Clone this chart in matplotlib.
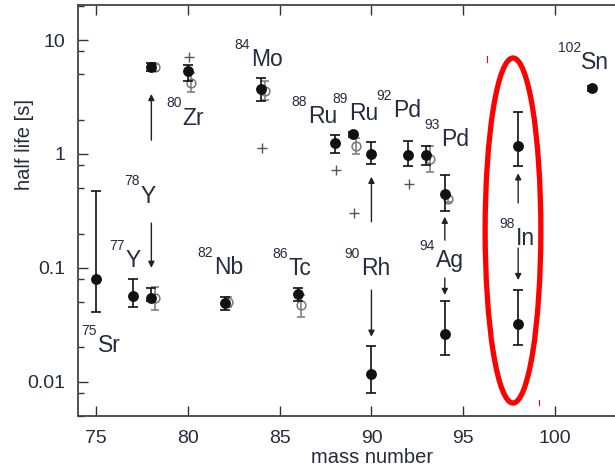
import matplotlib
matplotlib.use('Agg')
import matplotlib.pyplot as plt
import numpy as np
from matplotlib.patches import Ellipse
from matplotlib.ticker import FixedLocator, NullFormatter

plt.rcParams['font.family'] = ['Liberation Sans', 'DejaVu Sans']

# ---- measured half-lives (filled black circles) ----
mass_meas = [75, 77, 78, 78, 80, 82, 84, 86, 88, 89, 90, 90, 92, 93, 94, 94, 98, 98, 102]
hl_meas = [0.080, 0.057, 0.0545, 5.8, 5.35, 0.0487, 3.69, 0.0587, 1.24, 1.49, 1.0, 0.0117,
           0.985, 0.985, 0.445, 0.026, 1.18, 0.0318, 3.77]
hl_meas_lo = [0.041, 0.045, 0.051, 5.3, 4.4, 0.0425, 2.93, 0.0511, 1.02, 1.42, 0.82, 0.0079,
              0.79, 0.80, 0.316, 0.017, 0.79, 0.0208, 3.6]
hl_meas_hi = [0.476, 0.079, 0.066, 6.3, 6.0, 0.0555, 4.61, 0.0664, 1.46, 1.56, 1.28, 0.0206,
              1.31, 1.17, 0.65, 0.0516, 2.35, 0.0645, 3.95]

# ---- previous values (open grey circles) ----
mass_prev = [78, 78, 80, 82, 84, 86, 89, 93, 94]
hl_prev = [0.0545, 5.8, 4.17, 0.050, 3.6, 0.0476, 1.18, 0.90, 0.40]
hl_prev_lo = [0.0427, 5.4, 3.5, 0.045, 3.0, 0.037, 1.0, 0.70, 0.38]
hl_prev_hi = [0.068, 6.2, 5.1, 0.055, 4.4, 0.058, 1.37, 1.17, 0.43]

# ---- theoretical values (grey plus) ----
mass_theo = [80, 84, 88, 89, 92]
hl_theo = [7.1, 1.12, 0.72, 0.30, 0.545]

# ---- arrows (mass, from, to) ----
arrow_mass = [78, 78, 90, 90, 94, 94, 98, 98]
arrow_from = [1.32, 0.247, 0.254, 0.0638, 0.175, 0.0813, 0.371, 0.149]
arrow_to = [3.36, 0.100, 0.63, 0.0248, 0.281, 0.0577, 0.676, 0.078]

# ---- isotope labels ----
label_A = ['75', '77', '78', '80', '82', '84', '86', '88', '89', '92', '93', '90', '94', '98', '102']
label_el = ['Sr', 'Y', 'Y', 'Zr', 'Nb', 'Mo', 'Tc', 'Ru', 'Ru', 'Pd', 'Pd', 'Rh', 'Ag', 'In', 'Sn']
label_x = [74.2, 75.73, 76.54, 78.83, 80.52, 82.54, 84.61, 85.65, 87.89, 90.28, 92.90, 88.54, 92.63, 96.98, 100.15]
label_y = [0.0182, 0.1016, 0.372, 1.80, 0.0883, 5.92, 0.0865, 1.87, 1.99, 2.11, 1.17, 0.0865, 0.1016, 0.158, 5.56]

xticks = [75, 80, 85, 90, 95, 100]
ytick_vals = [0.01, 0.1, 1, 10]
ytick_labels = ['0.01', '0.1', '1', '10']

txt_color = '#262c40'

fig = plt.figure(figsize=(6.15, 4.76), dpi=100)
ax = fig.add_axes([78 / 615, 60 / 476, 550.2 / 615, 411 / 476])
ax.set_yscale('log')
ax.set_xlim(74, 104)
ax.set_ylim(0.005, 20.3)

# theory plus
ax.plot(np.array(mass_theo) + 0.05, hl_theo, '+', color='#555555', ms=7, mew=1.0, zorder=2)

# previous open circles
hp = np.array(hl_prev)
ax.errorbar(np.array(mass_prev) + 0.18, hp,
            yerr=[hp - np.array(hl_prev_lo), np.array(hl_prev_hi) - hp],
            fmt='o', mfc='none', mec='#777777', ecolor='#777777', ms=6.3, mew=1.1,
            capsize=3.2, elinewidth=1.1, capthick=1.1, zorder=3)

# measured
hm = np.array(hl_meas)
ax.errorbar(mass_meas, hm,
            yerr=[hm - np.array(hl_meas_lo), np.array(hl_meas_hi) - hm],
            fmt='o', color='#111111', ms=6.8, capsize=3.6, elinewidth=1.2, capthick=1.2, zorder=4)

# arrows
for m, a, b in zip(arrow_mass, arrow_from, arrow_to):
    ax.annotate('', xy=(m, b), xytext=(m, a),
                arrowprops=dict(arrowstyle='-|>', color='#222222', lw=1.0,
                                mutation_scale=9, shrinkA=0, shrinkB=0), zorder=3)

# labels
for A, el, x, y in zip(label_A, label_el, label_x, label_y):
    ax.annotate(A, xy=(x, y), xytext=(0, 12.5), textcoords='offset points',
                ha='left', va='baseline', fontsize=10, color=txt_color)
    ax.annotate(el, xy=(x, y), xytext=(len(A) * 5.56 + 0.5, 0), textcoords='offset points',
                ha='left', va='baseline', fontsize=16.5, color=txt_color)

# ticks
ax.xaxis.set_major_locator(FixedLocator(xticks))
ax.yaxis.set_major_locator(FixedLocator(ytick_vals))
ax.set_yticklabels(ytick_labels)
minor = [s * 10.0 ** e for e in range(-3, 2) for s in (2, 5, 8)]
ax.yaxis.set_minor_locator(FixedLocator(minor))
ax.yaxis.set_minor_formatter(NullFormatter())
ax.tick_params(which='both', direction='in', top=True, right=True, colors='#333333',
               labelcolor=txt_color, labelsize=14, width=1.0)
ax.tick_params(which='major', length=7)
ax.tick_params(which='minor', length=4)
ax.tick_params(axis='x', pad=10)
ax.tick_params(axis='y', pad=9)
for s in ax.spines.values():
    s.set_color('#444444')
    s.set_linewidth(1.3)

ax.set_xlabel('mass number', fontsize=14.5, color=txt_color)
ax.set_ylabel('half life [s]', fontsize=14.5, color=txt_color)
ax.xaxis.set_label_coords((372 - 78) / 550.2, (416 - 448) / 411)
ax.yaxis.set_label_coords((34 - 78) / 550.2, (416 - 145) / 411)

# red ellipse highlighting 98In
ell = Ellipse(((513 - 78) / 550.2, (416 - 230.5) / 411), 55.7 / 550.2, 345 / 411,
              transform=ax.transAxes, fill=False, edgecolor='#ff0000', lw=3.8,
              clip_on=False, zorder=10)
ax.add_patch(ell)
# tiny red marks next to the ellipse
for px, py0, py1 in [(487, 56, 62), (539, 400, 405)]:
    ax.plot([(px - 78) / 550.2] * 2, [(416 - py0) / 411, (416 - py1) / 411],
            color='#ff0000', lw=0.8, transform=ax.transAxes, clip_on=False, zorder=10)

fig.savefig('out.png', dpi=100)
